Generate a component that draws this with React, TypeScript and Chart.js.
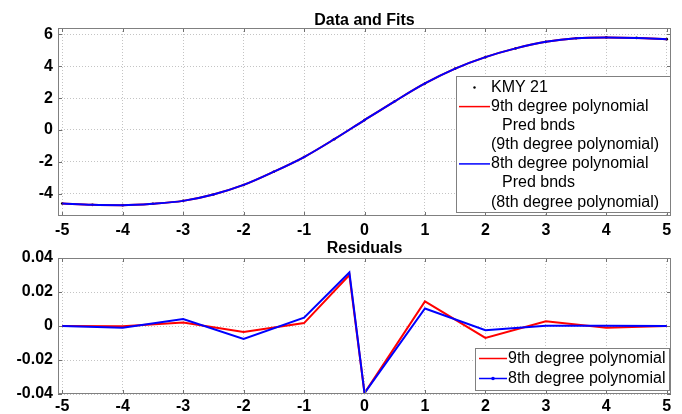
import React, { useEffect, useRef } from 'react';
import { Chart, registerables } from 'chart.js';

Chart.register(...registerables);

// ---- data ----
const seriesNames = ['KMY 21', '9th degree polynomial', '8th degree polynomial'];
const predLabel = 'Pred bnds';

const fitX = [-5, -4.5, -4, -3.5, -3, -2.5, -2, -1.5, -1, -0.5, 0, 0.5, 1, 1.5, 2, 2.5, 3, 3.5, 4, 4.5, 5];
const kmyY = [-4.62, -4.7, -4.72, -4.63, -4.45, -4.05, -3.45, -2.62, -1.7, -0.58, 0.62, 1.8, 2.92, 3.85, 4.57, 5.12, 5.53, 5.76, 5.81, 5.78, 5.7];
const fit9Y = [-4.62, -4.7, -4.72, -4.63, -4.45, -4.05, -3.45, -2.62, -1.7, -0.58, 0.62, 1.8, 2.92, 3.85, 4.57, 5.12, 5.53, 5.76, 5.81, 5.78, 5.7];
const fit8Y = [-4.62, -4.7, -4.72, -4.63, -4.45, -4.05, -3.45, -2.62, -1.7, -0.58, 0.62, 1.8, 2.92, 3.85, 4.57, 5.12, 5.53, 5.76, 5.81, 5.78, 5.7];

const resX = [-5, -4, -3, -2, -1, -0.25, 0, 1, 2, 3, 4, 5];
const res9 = [0, -0.0002, 0.002, -0.0035, 0.0017, 0.03, -0.0395, 0.0145, -0.007, 0.0028, -0.001, 0];
const res8 = [0, -0.001, 0.0041, -0.0076, 0.0049, 0.0315, -0.0395, 0.0103, -0.0025, 0.0002, 0.0002, 0];

const xTicks = [-5, -4, -3, -2, -1, 0, 1, 2, 3, 4, 5];
const topYTicks = [-4, -2, 0, 2, 4, 6];
const resYTicks = [-0.04, -0.02, 0, 0.02, 0.04];

const RED = '#ff0000';
const BLUE = '#0000ff';
const FAMILY = '"Liberation Sans", Arial, Helvetica, sans-serif';

const pts = (xs: number[], ys: number[]) => xs.map((x, i) => ({ x, y: ys[i] }));

const decor = {
  id: 'decor',
  afterDraw(chart: any, _args: any, opts: any) {
    const { ctx, chartArea: a, scales } = chart;
    ctx.save();
    const seg = (x1: number, y1: number, x2: number, y2: number) => {
      ctx.beginPath(); ctx.moveTo(x1, y1); ctx.lineTo(x2, y2); ctx.stroke();
    };
    // inward ticks
    ctx.strokeStyle = '#707070';
    ctx.lineWidth = 1;
    scales.x.ticks.forEach((t: any) => {
      const px = Math.round(scales.x.getPixelForValue(t.value)) + 0.5;
      seg(px, a.top, px, a.top + 4);
      seg(px, a.bottom, px, a.bottom - 4);
    });
    scales.y.ticks.forEach((t: any) => {
      const py = Math.round(scales.y.getPixelForValue(t.value)) + 0.5;
      seg(a.left, py, a.left + 4, py);
      seg(a.right, py, a.right - 4, py);
    });
    // frame
    ctx.strokeStyle = '#808080';
    ctx.strokeRect(a.left + 0.5, a.top + 0.5, a.right - a.left - 1, a.bottom - a.top - 1);
    // title
    ctx.fillStyle = '#000';
    ctx.font = `bold 16px ${FAMILY}`;
    ctx.textAlign = 'center';
    ctx.textBaseline = 'alphabetic';
    ctx.fillText(opts.title, (a.left + a.right) / 2, opts.titleY);
    // legend
    const L = opts.legend;
    ctx.fillStyle = '#fff';
    ctx.fillRect(L.x, L.y, L.w, L.h);
    ctx.strokeStyle = '#808080';
    ctx.strokeRect(L.x + 0.5, L.y + 0.5, L.w - 1, L.h - 1);
    ctx.font = `16px ${FAMILY}`;
    ctx.textAlign = 'left';
    ctx.textBaseline = 'middle';
    L.items.forEach((it: any, i: number) => {
      const cy = L.firstY + i * L.step;
      if (it.line) {
        ctx.strokeStyle = it.line;
        ctx.lineWidth = 1.5;
        seg(L.sx1, cy, L.sx2, cy);
        if (it.dotOnLine) {
          ctx.fillStyle = it.line;
          ctx.beginPath(); ctx.arc((L.sx1 + L.sx2) / 2, cy, 1.8, 0, Math.PI * 2); ctx.fill();
        }
      }
      if (it.dot) {
        ctx.fillStyle = it.dot;
        ctx.beginPath(); ctx.arc((L.sx1 + L.sx2) / 2, cy, 1.2, 0, Math.PI * 2); ctx.fill();
      }
      ctx.fillStyle = '#000';
      ctx.fillText(it.text, L.tx + (it.indent ? 11 : 0), cy);
    });
    ctx.restore();
  },
};

const tickFont = { family: FAMILY, size: 16, weight: 'bold' as const };

function xScale(h: number, pad: number) {
  return {
    type: 'linear' as const,
    min: -5.07,
    max: 5.07,
    afterBuildTicks: (s: any) => { s.ticks = xTicks.map((v) => ({ value: v })); },
    afterFit: (s: any) => { s.height = h; },
    grid: { color: '#c4c4c4', drawTicks: false, lineWidth: 1 },
    border: { display: false, dash: [1, 2] },
    ticks: { color: '#000', font: tickFont, padding: pad, maxRotation: 0, autoSkip: false, callback: (v: any) => String(v) },
  };
}

function yScale(min: number, max: number, ticksArr: number[]) {
  return {
    type: 'linear' as const,
    min,
    max,
    afterBuildTicks: (s: any) => { s.ticks = ticksArr.map((v) => ({ value: v })); },
    afterFit: (s: any) => { s.width = 58; },
    grid: { color: '#c4c4c4', drawTicks: false, lineWidth: 1 },
    border: { display: false, dash: [1, 2] },
    ticks: { color: '#000', font: tickFont, padding: 5, autoSkip: false, callback: (v: any) => String(v) },
  };
}

export default function App() {
  const topRef = useRef<HTMLCanvasElement>(null);
  const botRef = useRef<HTMLCanvasElement>(null);

  useEffect(() => {
    const top = new Chart(topRef.current as HTMLCanvasElement, {
      type: 'line',
      data: {
        datasets: [
          {
            label: seriesNames[2], data: pts(fitX, fit8Y), borderColor: BLUE, borderWidth: 2,
            pointRadius: 0, cubicInterpolationMode: 'monotone', order: 0,
          },
          {
            label: seriesNames[1], data: pts(fitX, fit9Y), borderColor: RED, borderWidth: 2,
            pointRadius: 0, cubicInterpolationMode: 'monotone', order: 1,
          },
          {
            label: seriesNames[0], data: pts(fitX, kmyY), showLine: false, pointRadius: 1.3,
            pointBackgroundColor: '#000', pointBorderWidth: 0, order: 2,
          },
        ],
      } as any,
      options: {
        animation: false,
        responsive: false,
        layout: { padding: { top: 28, right: 11, left: 0, bottom: 0 } },
        scales: { x: xScale(24, 5), y: yScale(-5.4, 6.4, topYTicks) } as any,
        plugins: {
          legend: { display: false },
          tooltip: { enabled: false },
          decor: {
            title: 'Data and Fits',
            titleY: 25,
            legend: {
              x: 456, y: 76, w: 215, h: 137, firstY: 87.5, step: 19.1, sx1: 459, sx2: 490, tx: 491,
              items: [
                { text: seriesNames[0], dot: '#000' },
                { text: seriesNames[1], line: RED },
                { text: predLabel, indent: true },
                { text: `(${seriesNames[1]})` },
                { text: seriesNames[2], line: BLUE },
                { text: predLabel, indent: true },
                { text: `(${seriesNames[2]})` },
              ],
            },
          },
        } as any,
      },
      plugins: [decor],
    });

    const bot = new Chart(botRef.current as HTMLCanvasElement, {
      type: 'line',
      data: {
        datasets: [
          {
            label: seriesNames[2], data: pts(resX, res8), borderColor: BLUE, borderWidth: 2,
            pointRadius: 0, tension: 0, order: 0,
          },
          {
            label: seriesNames[1], data: pts(resX, res9), borderColor: RED, borderWidth: 2,
            pointRadius: 0, tension: 0, order: 1,
          },
        ],
      } as any,
      options: {
        animation: false,
        responsive: false,
        layout: { padding: { top: 18, right: 11, left: 0, bottom: 0 } },
        scales: { x: xScale(20, 3), y: yScale(-0.04, 0.04, resYTicks) } as any,
        plugins: {
          legend: { display: false },
          tooltip: { enabled: false },
          decor: {
            title: 'Residuals',
            titleY: 13,
            legend: {
              x: 475, y: 108, w: 195, h: 43, firstY: 118.5, step: 20, sx1: 479, sx2: 507, tx: 508,
              items: [
                { text: seriesNames[1], line: RED },
                { text: seriesNames[2], line: BLUE, dotOnLine: true },
              ],
            },
          },
        } as any,
      },
      plugins: [decor],
    });

    return () => { top.destroy(); bot.destroy(); };
  }, []);

  return (
    <div style={{ position: 'absolute', left: 0, top: 0, width: 682, height: 414, background: '#fff' }}>
      <canvas ref={topRef} width={682} height={240} style={{ position: 'absolute', left: 0, top: 0 }} />
      <canvas ref={botRef} width={682} height={174} style={{ position: 'absolute', left: 0, top: 240 }} />
    </div>
  );
}
